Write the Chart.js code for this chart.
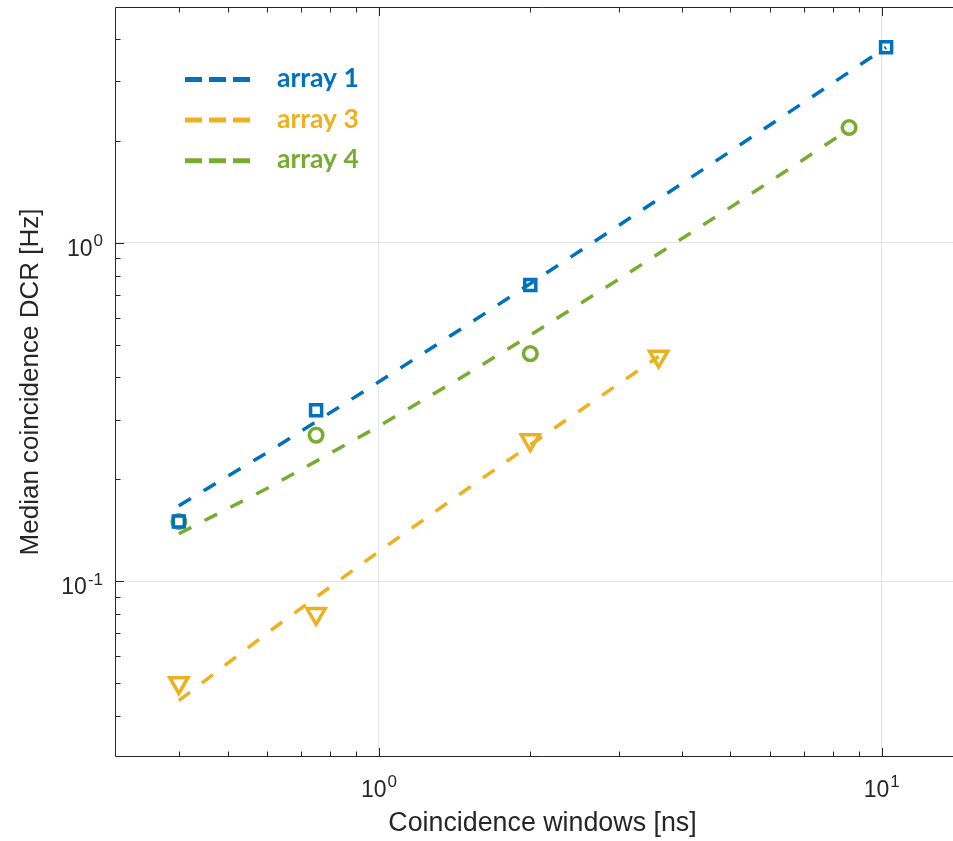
<!DOCTYPE html>
<html>
<head>
<meta charset="utf-8">
<script src="https://cdn.jsdelivr.net/npm/chart.js@4.4.0/dist/chart.umd.min.js"></script>
<style>
  html, body { margin: 0; padding: 0; background: #ffffff; overflow: hidden; }
  #chart { display: block; }
</style>
</head>
<body>
<canvas id="chart" width="969" height="841"></canvas>
<script>
// Series names and colours
const seriesNames = ['array 1', 'array 3', 'array 4'];
const seriesColors = ['#0072BD', '#EDB120', '#77AC30'];

// Median coincidence DCR per coincidence window (markers)
const array1X = [0.4, 0.75, 2, 10.2];
const array1Y = [0.15, 0.32, 0.75, 3.78];
const array3X = [0.4, 0.75, 2, 3.6];
const array3Y = [0.05, 0.08, 0.261, 0.461];
const array4X = [0.4, 0.75, 2, 8.61];
const array4Y = [0.15, 0.27, 0.47, 2.19];

// Fitted trend lines (dashed)
const fit1X = [0.4, 0.6, 1, 1.5, 2, 3, 5, 7.5, 10.2];
const fit1Y = [0.167, 0.240, 0.388, 0.572, 0.757, 1.125, 1.863, 2.784, 3.78];
const fit3X = [0.4, 0.6, 1, 1.5, 2, 2.5, 3, 3.6];
const fit3Y = [0.0443, 0.0703, 0.1224, 0.1875, 0.2526, 0.3177, 0.3828, 0.461];
const fit4X = [0.4, 0.6, 1, 1.5, 2, 3, 5, 7, 8.61];
const fit4Y = [0.138, 0.188, 0.287, 0.410, 0.533, 0.780, 1.272, 1.765, 2.162];

// Decade tick labels: base 10 with exponent
const xTickValues = [1, 10];
const xTickExps = ['0', '1'];
const yTickValues = [0.1, 1];
const yTickExps = ['-1', '0'];

const axisTitleX = 'Coincidence windows [ns]';
const axisTitleY = 'Median coincidence DCR [Hz]';

const INK = '#262626';
const GRID = '#e3e3e3';
const SANS = '"Liberation Sans", Arial, Helvetica, sans-serif';

const toPoints = (xs, ys) => xs.map((x, i) => ({ x: x, y: ys[i] }));
const isDecade = v => Math.abs(Math.log10(v) - Math.round(Math.log10(v))) < 1e-6;

// 1..9 x 10^n ticks across the axis range
function logTicks(scale) {
  const out = [];
  const e0 = Math.floor(Math.log10(scale.min));
  const e1 = Math.ceil(Math.log10(scale.max));
  for (let e = e0; e <= e1; e++) {
    for (let s = 1; s <= 9; s++) {
      const v = s * Math.pow(10, e);
      if (v >= scale.min * 0.9999 && v <= scale.max * 1.0001) out.push({ value: v, major: s === 1 });
    }
  }
  scale.ticks = out;
}

const fitLine = (label, xs, ys, color) => ({
  label: label,
  data: toPoints(xs, ys),
  showLine: true,
  borderColor: color,
  backgroundColor: color,
  borderWidth: 3.5,
  borderDash: [14, 15],
  pointRadius: 0,
  tension: 0,
  fill: false,
  order: 0,
  isFit: true
});

const markers = (label, xs, ys, color, style, radius, rotation) => ({
  label: label + ' data',
  data: toPoints(xs, ys),
  showLine: false,
  pointStyle: style,
  pointRadius: radius,
  pointRotation: rotation,
  pointBorderWidth: 3.5,
  pointBorderColor: color,
  pointBackgroundColor: 'rgba(0,0,0,0)',
  order: 1
});

// Axis box (left, top, bottom), inward tick marks and decade labels
const axesFrame = {
  id: 'axesFrame',
  afterDatasetsDraw(chart) {
    const { ctx, chartArea: a, scales } = chart;
    const x = scales.x, y = scales.y;
    ctx.save();
    ctx.strokeStyle = INK;
    ctx.lineWidth = 1;
    const L = Math.round(a.left) - 0.5;
    const B = Math.round(a.bottom) - 0.5;
    const T = Math.round(a.top) + 0.5;
    ctx.beginPath();
    ctx.moveTo(L, T); ctx.lineTo(a.right, T);
    ctx.moveTo(L, T); ctx.lineTo(L, B);
    ctx.moveTo(L, B); ctx.lineTo(a.right, B);
    ctx.stroke();

    ctx.beginPath();
    x.ticks.forEach(t => {
      const px = Math.round(x.getPixelForValue(t.value)) + 0.5;
      if (px <= L + 1 || px >= a.right - 1) return;
      const len = isDecade(t.value) ? 8.5 : 5;
      ctx.moveTo(px, B); ctx.lineTo(px, B - len);
      ctx.moveTo(px, T); ctx.lineTo(px, T + len);
    });
    y.ticks.forEach(t => {
      const py = Math.round(y.getPixelForValue(t.value)) + 0.5;
      if (py <= T + 1 || py >= B - 1) return;
      const len = isDecade(t.value) ? 8.5 : 5;
      ctx.moveTo(L, py); ctx.lineTo(L + len, py);
    });
    ctx.stroke();
    ctx.restore();
  },
  afterDraw(chart) {
    const { ctx, scales } = chart;
    const x = scales.x, y = scales.y;
    const baseFont = '23px ' + SANS;
    const expFont = '17px ' + SANS;
    ctx.save();
    ctx.fillStyle = INK;
    ctx.textBaseline = 'alphabetic';
    ctx.textAlign = 'left';
    const widths = exp => {
      ctx.font = baseFont; const wb = ctx.measureText('10').width;
      ctx.font = expFont; const we = ctx.measureText(exp).width;
      return [wb, we];
    };
    xTickValues.forEach((v, i) => {
      const px = x.getPixelForValue(v);
      const [wb, we] = widths(xTickExps[i]);
      const x0 = px - (wb + 1 + we) / 2;
      ctx.font = baseFont; ctx.fillText('10', x0, 797);
      ctx.font = expFont; ctx.fillText(xTickExps[i], x0 + wb + 1, 787);
    });
    yTickValues.forEach((v, i) => {
      const py = y.getPixelForValue(v);
      const [wb, we] = widths(yTickExps[i]);
      const right = 103;
      ctx.font = expFont; ctx.fillText(yTickExps[i], right - we, py + 3.5);
      ctx.font = baseFont; ctx.fillText('10', right - we - 1 - wb, py + 13.3);
    });
    ctx.restore();
  }
};

// Legend drawn inside the plot, top-left
const insideLegend = {
  id: 'insideLegend',
  afterDraw(chart) {
    const { ctx } = chart;
    const fits = chart.data.datasets.filter(d => d.isFit);
    ctx.save();
    fits.forEach((d, i) => {
      const cy = 79.5 + i * 40.6;
      ctx.strokeStyle = d.borderColor;
      ctx.lineWidth = 5;
      ctx.setLineDash([17, 7]);
      ctx.beginPath();
      ctx.moveTo(185, cy); ctx.lineTo(250, cy);
      ctx.stroke();
      ctx.setLineDash([]);
      ctx.fillStyle = d.borderColor;
      ctx.font = 'bold 26.5px Lato, "Open Sans", sans-serif';
      ctx.textBaseline = 'alphabetic';
      ctx.textAlign = 'left';
      ctx.fillText(d.label, 277, cy + 7.5);
    });
    ctx.restore();
  }
};

new Chart(document.getElementById('chart'), {
  type: 'scatter',
  data: {
    datasets: [
      fitLine(seriesNames[0], fit1X, fit1Y, seriesColors[0]),
      fitLine(seriesNames[1], fit3X, fit3Y, seriesColors[1]),
      fitLine(seriesNames[2], fit4X, fit4Y, seriesColors[2]),
      markers(seriesNames[0], array1X, array1Y, seriesColors[0], 'rect', 7.8, 0),
      markers(seriesNames[1], array3X, array3Y, seriesColors[1], 'triangle', 10.5, 180),
      markers(seriesNames[2], array4X, array4Y, seriesColors[2], 'circle', 6.8, 0)
    ]
  },
  options: {
    responsive: false,
    animation: false,
    devicePixelRatio: 1,
    layout: { autoPadding: false, padding: { top: 7, right: 0, left: 0, bottom: 0 } },
    plugins: {
      legend: { display: false },
      tooltip: { enabled: false }
    },
    scales: {
      x: {
        type: 'logarithmic',
        min: 0.3012,
        max: 14.91,
        afterBuildTicks: logTicks,
        afterFit: s => { s.height = 84; },
        ticks: { display: false },
        grid: {
          drawTicks: false,
          lineWidth: 1,
          color: c => (c.tick && isDecade(c.tick.value)) ? GRID : 'rgba(0,0,0,0)'
        },
        border: { display: false },
        title: {
          display: true,
          text: axisTitleX,
          color: INK,
          font: { family: SANS, size: 26.8, weight: 'normal' },
          padding: { top: 0, bottom: 1 }
        }
      },
      y: {
        type: 'logarithmic',
        min: 0.0302,
        max: 4.974,
        afterBuildTicks: logTicks,
        afterFit: s => { s.width = 116; },
        ticks: { display: false },
        grid: {
          drawTicks: false,
          lineWidth: 1,
          color: c => (c.tick && isDecade(c.tick.value)) ? GRID : 'rgba(0,0,0,0)'
        },
        border: { display: false },
        title: {
          display: true,
          text: axisTitleY,
          color: INK,
          font: { family: SANS, size: 26, weight: 'normal' },
          padding: { top: 15, bottom: 0 }
        }
      }
    }
  },
  plugins: [axesFrame, insideLegend]
});
</script>
</body>
</html>
